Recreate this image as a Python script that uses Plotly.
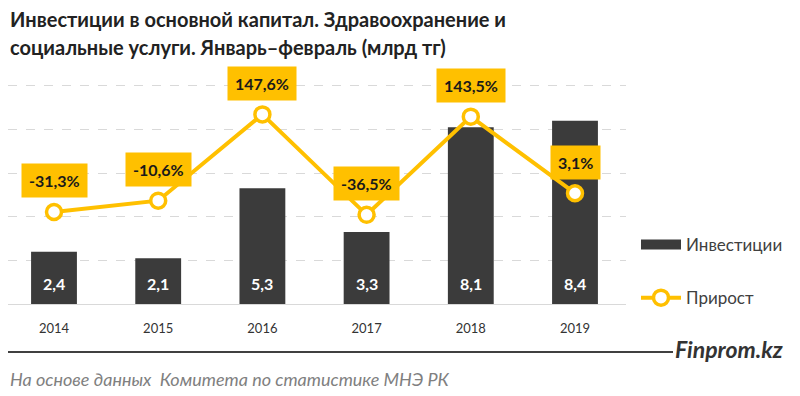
import plotly.graph_objects as go

years = ["2014", "2015", "2016", "2017", "2018", "2019"]
investments = [2.4, 2.1, 5.3, 3.3, 8.1, 8.4]
growth = [-31.3, -10.6, 147.6, -36.5, 143.5, 3.1]
inv_labels = ["2,4", "2,1", "5,3", "3,3", "8,1", "8,4"]
growth_labels = ["-31,3%", "-10,6%", "147,6%", "-36,5%", "143,5%", "3,1%"]

BAR = "#3b3b3b"
YEL = "#FFC000"
FONT = "Lato, 'Open Sans', sans-serif"

# page body has an 8px default margin; figure is sized to fit the window
OFF = 8
W, H = 800 - OFF, 396 - OFF
L, R, T, B = 0, 174, 56, 92
PW, PH = W - L - R, H - T - B


def px(sx):
    """screen x -> paper x"""
    return (sx - OFF - L) / PW


def py(sy):
    """screen y -> paper y"""
    return (H - B - (sy - OFF)) / PH


fig = go.Figure()

fig.add_trace(go.Bar(
    x=years, y=investments, name="Инвестиции",
    marker=dict(color=BAR, line=dict(width=0)),
    showlegend=False, yaxis="y", hoverinfo="x+y",
))
# legend entry for the bars (wide rectangle symbol)
fig.add_trace(go.Scatter(
    x=years[:1], y=[None], mode="lines", name="Инвестиции",
    line=dict(color=BAR, width=10), yaxis="y", hoverinfo="skip",
    legendgroup="inv",
))
fig.add_trace(go.Scatter(
    x=years, y=growth, name="Прирост", mode="lines+markers",
    line=dict(color=YEL, width=4),
    marker=dict(size=15, color="white", line=dict(color=YEL, width=3.5)),
    yaxis="y2", legendgroup="gr",
))

for i, (v, lab) in enumerate(zip(investments, inv_labels)):
    fig.add_annotation(
        x=i, y=0, xref="x", yref="y", text=lab, showarrow=False,
        yshift=21, yanchor="middle",
        font=dict(size=16, color="white", family=FONT, weight="bold"),
    )

for i, (g, lab) in enumerate(zip(growth, growth_labels)):
    fig.add_annotation(
        x=i, y=g, xref="x", yref="y2", text=lab, showarrow=False,
        yshift=31, bgcolor=YEL, borderpad=7,
        font=dict(size=16, color="#1a1a1a", family=FONT, weight="bold"),
    )

fig.add_annotation(
    x=px(8), y=py(19), xref="paper", yref="paper", xanchor="left", yanchor="middle",
    text="<b>Инвестиции в основной капитал. Здравоохранение и</b>", showarrow=False,
    font=dict(size=20, color="#222222", family=FONT),
)
fig.add_annotation(
    x=px(8), y=py(47), xref="paper", yref="paper", xanchor="left", yanchor="middle",
    text="<b>социальные услуги. Январь–февраль (млрд тг)</b>", showarrow=False,
    font=dict(size=20, color="#222222", family=FONT),
)
fig.add_annotation(
    x=px(673), y=py(349), xref="paper", yref="paper", xanchor="left", yanchor="middle",
    text="<b><i>Finprom.kz</i></b>", showarrow=False,
    font=dict(size=23, color="#333333", family=FONT),
)
fig.add_annotation(
    x=px(8), y=py(379), xref="paper", yref="paper", xanchor="left", yanchor="middle",
    text="<i>На основе данных  Комитета по статистике МНЭ РК</i>", showarrow=False,
    font=dict(size=18, color="#808080", family=FONT),
)
fig.add_shape(
    type="line", xref="paper", yref="paper",
    x0=px(8), x1=px(673), y0=py(352), y1=py(352),
    line=dict(color="#404040", width=2),
)

# category centres on screen: 54 ... 575, plot spans 8 ... 626
step = (575 - 54) / 5
fig.update_layout(
    width=W, height=H,
    margin=dict(l=L, r=R, t=T, b=B, pad=0),
    paper_bgcolor="white", plot_bgcolor="white",
    bargap=0.56,
    font=dict(family=FONT, color="#404040"),
    xaxis=dict(
        type="category", categoryorder="array", categoryarray=years,
        range=[-(54 - 8) / step, 5 + (626 - 575) / step],
        showgrid=False, zeroline=False,
        showline=True, linecolor="#d9d9d9", linewidth=1,
        ticks="outside", ticklen=12, tickcolor="rgba(0,0,0,0)",
        tickfont=dict(size=13, color="#333333", family=FONT),
    ),
    yaxis=dict(
        range=[0, 11], tickvals=[2, 4, 6, 8, 10], showticklabels=False,
        showgrid=True, gridcolor="#d9d9d9", griddash="dash", gridwidth=1,
        zeroline=False, showline=False,
    ),
    yaxis2=dict(
        range=[-200, 240], overlaying="y", side="right",
        showgrid=False, zeroline=False, showticklabels=False, showline=False,
    ),
    legend=dict(
        x=px(636), xanchor="left", y=py(227), yanchor="top",
        font=dict(size=17, color="#404040", family=FONT),
        tracegroupgap=28, traceorder="grouped",
        bgcolor="rgba(0,0,0,0)", itemwidth=40,
    ),
)

fig.write_html("out.html")
